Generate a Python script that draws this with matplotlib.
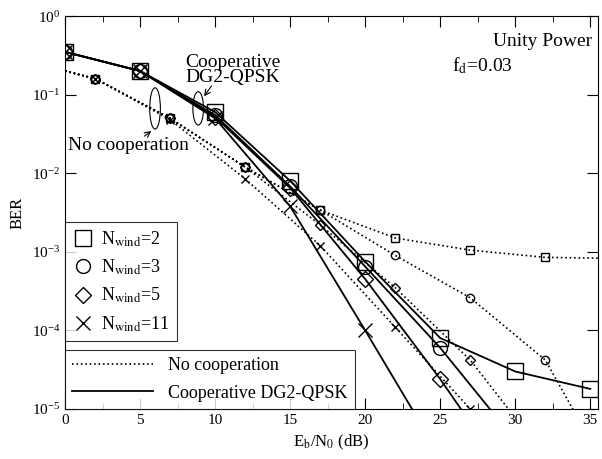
import matplotlib
matplotlib.use('Agg')
import matplotlib.pyplot as plt
from matplotlib.patches import Ellipse
from matplotlib.lines import Line2D

plt.rcParams['font.family'] = ['Liberation Serif', 'DejaVu Serif']
plt.rcParams['mathtext.fontset'] = 'stix'

# Cooperative DG2-QPSK (solid)
coop_x = {2: [0, 5, 10, 15, 20, 25, 30, 35],
          3: [0, 5, 10, 15, 20, 25, 30],
          5: [0, 5, 10, 15, 20, 25, 30],
          11: [0, 5, 10, 15, 20, 25]}
coop_y = {2: [0.35, 0.2, 0.06, 0.008, 7.5e-4, 8e-5, 3e-5, 1.8e-5],
          3: [0.35, 0.2, 0.055, 0.0068, 6.5e-4, 6e-5, 4e-6],
          5: [0.35, 0.2, 0.052, 0.0065, 4.5e-4, 2.4e-5, 1e-6],
          11: [0.35, 0.2, 0.05, 0.0038, 1e-4, 2.5e-6]}
# No cooperation (dotted)
nc_x = {2: [0, 2, 7, 12, 17, 22, 27, 32, 35.5],
        3: [0, 2, 7, 12, 17, 22, 27, 32, 35],
        5: [0, 2, 7, 12, 17, 22, 27, 32],
        11: [0, 2, 7, 12, 17, 22, 27, 32]}
nc_y = {2: [0.2, 0.16, 0.05, 0.012, 0.0034, 1.5e-3, 1.05e-3, 8.5e-4, 8.3e-4],
        3: [0.2, 0.16, 0.05, 0.012, 0.0034, 9e-4, 2.6e-4, 4.2e-5, 4e-6],
        5: [0.2, 0.16, 0.05, 0.012, 0.0022, 3.5e-4, 4.2e-5, 2.5e-6],
        11: [0.2, 0.16, 0.048, 0.0085, 1.2e-3, 1.1e-4, 1e-5, 9e-7]}
markers = {2: 's', 3: 'o', 5: 'D', 11: 'x'}
msize_big = {2: 11, 3: 10, 5: 8, 11: 10}
msize_small = {2: 6, 3: 6, 5: 5, 11: 6}

fig = plt.figure(figsize=(6.02, 4.59), dpi=100)
ax = fig.add_axes([0.108, 0.109, 0.885, 0.856])

for n in [2, 3, 5, 11]:
    ax.plot(nc_x[n], nc_y[n], color='black', ls=':', lw=1.2,
            marker=markers[n], ms=msize_small[n], mfc='none', mec='black', mew=1,
            markevery=list(range(1, min(8, len(nc_x[n])))))
    ax.plot(coop_x[n], coop_y[n], color='black', ls='-', lw=1.3,
            marker=markers[n], ms=msize_big[n], mfc='none', mec='black', mew=1)

ax.set_yscale('log')
ax.set_xlim(0, 35.5)
ax.set_ylim(1e-5, 1)
ax.set_xticks([0, 5, 10, 15, 20, 25, 30, 35])
ax.set_xticks([2.5, 7.5, 12.5, 17.5, 22.5, 27.5, 32.5], minor=True)
ax.set_yticks([1e-5, 1e-4, 1e-3, 1e-2, 1e-1, 1])
ax.yaxis.set_minor_locator(matplotlib.ticker.NullLocator())
ax.tick_params(which='both', direction='in', top=True, right=True, labelsize=11)
ax.tick_params(which='major', length=8)
ax.tick_params(which='minor', length=4)
ax.set_xlabel(r'E$_\mathrm{b}$/N$_0$ (dB)', fontsize=12)
ax.set_ylabel('BER', fontsize=12)

T = ax.transAxes
ax.text(0.99, 0.935, 'Unity Power', ha='right', va='center', fontsize=14, transform=T)
ax.text(0.727, 0.875, r'f$_\mathrm{d}$=0.03', ha='left', va='center', fontsize=14, transform=T)
ax.text(0.315, 0.863, 'Cooperative\nDG2-QPSK', ha='center', va='center', fontsize=14,
        linespacing=0.8, transform=T)
ax.text(0.005, 0.67, 'No cooperation', ha='left', va='center', fontsize=14, transform=T)

ax.add_patch(Ellipse((0.169, 0.765), 0.02, 0.105, transform=T, fill=False, lw=0.8))
ax.annotate('', xy=(0.166, 0.712), xytext=(0.145, 0.69), xycoords=T, textcoords=T,
            arrowprops=dict(arrowstyle='->', lw=0.8))
ax.add_patch(Ellipse((0.25, 0.765), 0.02, 0.085, transform=T, fill=False, lw=0.8))
ax.annotate('', xy=(0.258, 0.79), xytext=(0.278, 0.828), xycoords=T, textcoords=T,
            arrowprops=dict(arrowstyle='->', lw=0.8))

h1 = [Line2D([], [], ls='none', marker=markers[n], ms=msize_big[n], mfc='none', mec='black')
      for n in [2, 3, 5, 11]]
l1 = [r'N$_\mathrm{wind}$=%d' % n for n in [2, 3, 5, 11]]
leg1 = ax.legend(h1, l1, loc='upper left', bbox_to_anchor=(0.0, 0.476), fontsize=13,
                 frameon=True, fancybox=False, edgecolor='black', handletextpad=0.4,
                 labelspacing=0.5, borderpad=0.4, handlelength=1.2, borderaxespad=0)
leg1.get_frame().set_linewidth(0.8)
ax.add_artist(leg1)
h2 = [Line2D([], [], ls=':', color='black', lw=1.2), Line2D([], [], ls='-', color='black', lw=1.3)]
leg2 = ax.legend(h2, ['No cooperation', 'Cooperative DG2-QPSK'], loc='lower left',
                 bbox_to_anchor=(0.0, 0.0), fontsize=13, frameon=True, fancybox=False,
                 edgecolor='black', handlelength=4.5, borderpad=0.4, labelspacing=0.6,
                 borderaxespad=0)
leg2.get_frame().set_linewidth(0.8)

fig.savefig('out.png', dpi=100)
